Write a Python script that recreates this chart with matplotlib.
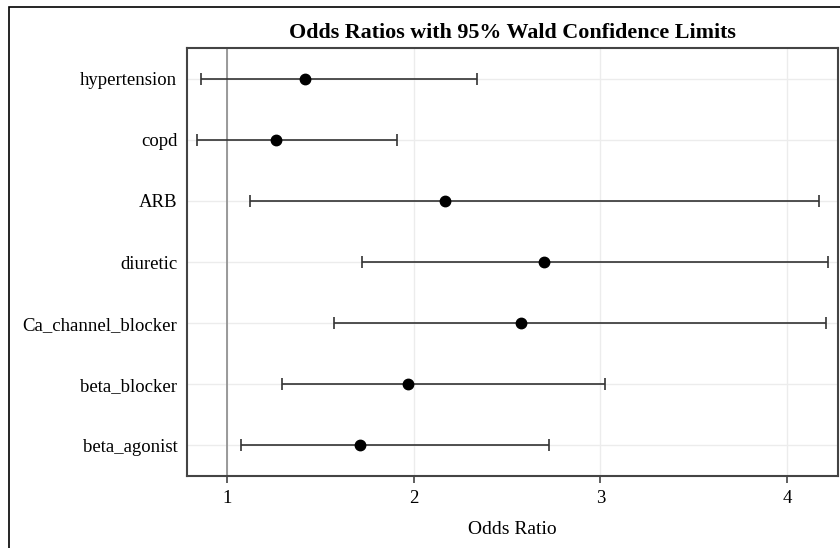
import numpy as np
import matplotlib
matplotlib.use('Agg')
import matplotlib.pyplot as plt
from matplotlib.patches import Rectangle

# donnees
effects = ['hypertension', 'copd', 'ARB', 'diuretic', 'Ca_channel_blocker',
           'beta_blocker', 'beta_agonist']
odds = [1.42, 1.264, 2.168, 2.698, 2.573, 1.971, 1.712]
lower = [0.861, 0.838, 1.123, 1.725, 1.575, 1.295, 1.075]
upper = [2.337, 1.911, 4.171, 4.219, 4.208, 3.025, 2.723]
xticks = [1, 2, 3, 4]

plt.rcParams['font.family'] = ['Liberation Serif', 'DejaVu Serif']

fig = plt.figure(figsize=(8.4, 5.48), dpi=100)
ax = fig.add_axes([187 / 840, 1 - 476 / 548, 651 / 840, 428 / 548])

y = np.arange(len(effects))
odds = np.array(odds)
err = [odds - np.array(lower), np.array(upper) - odds]

ax.axvline(1, color='#8a8a8a', lw=1.2, zorder=1)
ax.errorbar(odds, y, xerr=err, fmt='o', color='black', ecolor='#333333',
            elinewidth=1.2, capsize=4.5, capthick=1.2, markersize=7.5, zorder=3)

ax.set_yticks(y)
ax.set_yticklabels(effects, fontsize=13.5)
ax.set_xticks(xticks)
ax.set_xticklabels([str(t) for t in xticks], fontsize=13.5)
ax.set_xlim(0.786, 4.273)
ax.set_ylim(len(effects) - 0.5, -0.5)
ax.grid(True, color='#ececec', lw=1.0, zorder=0)
ax.set_axisbelow(True)
ax.tick_params(axis='y', length=0, pad=7)
ax.tick_params(axis='x', length=5, width=1.2, color='#444444', pad=5)
for s in ax.spines.values():
    s.set_color('#444444')
    s.set_linewidth(1.5)

ax.set_xlabel('Odds Ratio', fontsize=14, labelpad=10)
ax.set_title('Odds Ratios with 95% Wald Confidence Limits', fontsize=15.8,
             fontweight='bold', pad=7)

# cadre exterieur
fig.patches.append(Rectangle((9 / 840, -0.1), 2, 1.1 - 7 / 548, transform=fig.transFigure,
                             fill=False, edgecolor='black', lw=1.2))

fig.savefig('out.png', dpi=100)
